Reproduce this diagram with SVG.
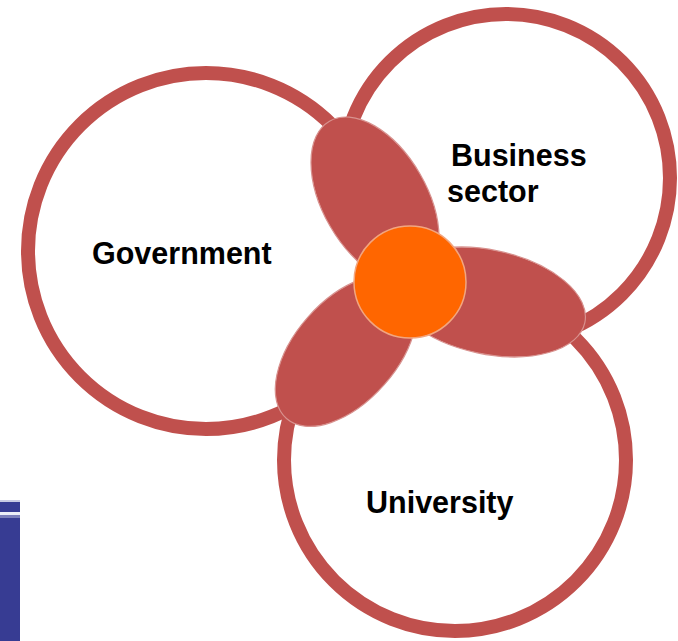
<svg xmlns="http://www.w3.org/2000/svg" width="678" height="641" viewBox="0 0 678 641">
<style>
.ring{fill:none;stroke:#c0504d;stroke-width:14}
.petal{fill:#c0504d;stroke:#d8928f;stroke-width:1.2}
.core{fill:#ff6600;stroke:#f2a680;stroke-width:1.5}
.lbl{font-family:"Liberation Sans",Arial,sans-serif;font-weight:bold;font-size:30.5px;fill:#000}
</style>
<rect width="678" height="641" fill="#fff"/>
<g id="sidebar">
<rect x="0" y="500" width="20" height="141" fill="#373c93"/>
<rect x="0" y="500" width="20" height="2" fill="#c9cbe3"/>
<rect x="0" y="512" width="20" height="3" fill="#eceef7"/>
<rect x="0" y="515" width="20" height="3" fill="#7c80bb"/>
</g>
<g id="government">
<circle class="ring" cx="206" cy="251" r="178"/>
</g>
<g id="business">
<circle class="ring" cx="506" cy="178" r="164"/>
</g>
<g id="university">
<circle class="ring" cx="455" cy="460" r="171"/>
</g>
<g id="connectors">
<ellipse class="petal" cx="375" cy="200" rx="91" ry="52" transform="rotate(60 375 200)"/>
<ellipse class="petal" cx="488" cy="302" rx="99" ry="52" transform="rotate(12 488 302)"/>
<ellipse class="petal" cx="346" cy="351" rx="90" ry="51" transform="rotate(-48.6 346 351)"/>
</g>
<g id="core">
<circle class="core" cx="410" cy="282" r="56"/>
</g>
<g id="labels">
<text class="lbl" x="92" y="264">Government</text>
<text class="lbl" x="451" y="166">Business</text>
<text class="lbl" x="447" y="202">sector</text>
<text class="lbl" x="366" y="513">University</text>
</g>
</svg>
